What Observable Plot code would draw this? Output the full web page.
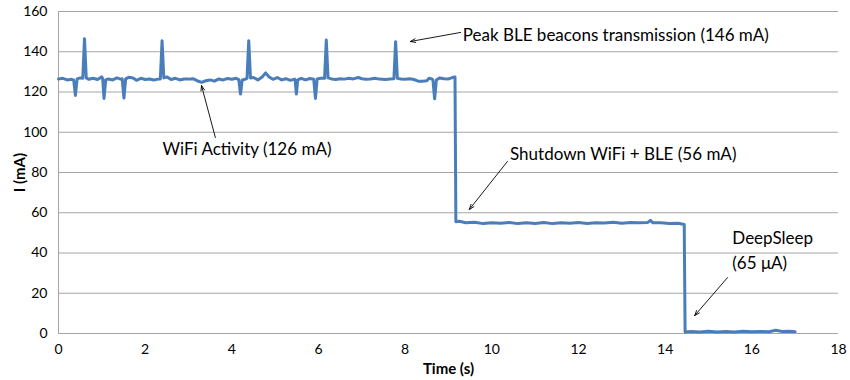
<!DOCTYPE html>
<html><head><meta charset="utf-8">
<script src="https://cdn.jsdelivr.net/npm/d3@7"></script>
<script src="https://cdn.jsdelivr.net/npm/@observablehq/plot@0.6"></script>
<style>
body{margin:0;background:#fff;}
#chart svg{display:block;}
g[aria-label="x-axis label"] text, g[aria-label="y-axis label"] text{font-weight:bold;font-size:15px;}
</style></head><body><div id="chart"></div>
<script>
// Measured current trace (time in s, current in mA)
const timeS = [
  0.00,0.10,0.20,0.30,0.35,0.39,0.43,0.50,0.56,0.60,0.64,0.70,0.80,0.90,1.00,1.02,1.05,1.09,1.15,1.25,
  1.35,1.45,1.47,1.51,1.55,1.62,1.72,1.80,1.90,2.00,2.10,2.20,2.30,2.35,2.39,2.43,2.50,2.60,2.70,2.80,
  2.90,3.00,3.10,3.20,3.30,3.40,3.50,3.60,3.70,3.80,3.90,4.00,4.10,4.16,4.20,4.24,4.30,4.35,4.39,4.43,
  4.50,4.60,4.70,4.78,4.86,4.95,5.05,5.15,5.25,5.35,5.45,5.46,5.49,5.52,5.60,5.70,5.80,5.89,5.93,5.97,
  6.05,6.14,6.18,6.22,6.30,6.40,6.50,6.60,6.70,6.80,6.92,7.00,7.10,7.20,7.30,7.40,7.55,7.65,7.74,7.78,
  7.82,7.90,8.00,8.10,8.20,8.30,8.40,8.50,8.55,8.62,8.64,8.68,8.72,8.76,8.80,8.90,9.00,9.07,9.12,9.15,
  9.17,9.25,9.40,9.60,9.80,10.00,10.20,10.40,10.60,10.80,11.00,11.20,11.40,11.60,11.80,12.00,12.20,12.40,12.60,12.80,
  13.00,13.20,13.40,13.60,13.66,13.72,13.90,14.10,14.30,14.44,14.46,14.60,14.80,15.00,15.20,15.40,15.60,15.80,16.00,16.20,
  16.40,16.55,16.70,16.85,17.00
];
const currentMA = [
  126.5,126.8,126.0,126.3,126.0,118.3,126.5,127.0,126.8,146.5,127.0,126.3,126.8,126.2,127.5,126.5,116.8,126.0,126.5,126.0,
  127.0,126.3,126.5,117.0,126.5,127.3,127.0,125.8,126.8,126.2,126.5,126.0,126.4,126.5,145.5,127.0,127.5,126.2,126.8,126.0,
  126.5,126.4,126.6,125.6,124.8,125.6,126.0,125.4,126.5,126.0,126.7,126.3,126.8,126.2,119.0,126.0,126.3,126.8,145.5,127.0,
  127.2,126.0,127.5,129.5,127.5,126.3,127.2,126.0,126.6,125.8,126.4,126.0,119.0,126.0,126.8,126.0,126.7,126.3,116.8,126.5,
  126.8,126.8,145.8,127.0,126.5,126.2,126.6,126.4,126.8,126.5,127.2,126.6,126.3,126.5,126.8,126.4,126.2,126.5,126.6,145.0,
  126.8,126.5,126.3,126.6,126.2,125.4,125.3,125.6,126.8,126.5,126.0,116.6,126.0,126.5,127.0,126.6,126.5,127.0,127.4,127.4,
  55.5,55.8,55.0,55.3,54.6,55.0,54.8,55.2,54.6,55.0,54.7,55.1,54.6,55.0,54.8,55.2,54.7,55.0,54.9,55.3,
  54.8,55.1,55.0,55.2,56.2,55.0,55.0,54.6,54.8,54.2,0.8,1.0,0.7,1.1,0.8,1.0,0.8,1.1,0.9,1.0,
  0.9,1.6,1.0,1.1,0.9
];
const xTicks = [0, 2, 4, 6, 8, 10, 12, 14, 16, 18];
const yTicks = [0, 20, 40, 60, 80, 100, 120, 140, 160];

// Annotation texts (data coordinates)
const noteText = ["Peak BLE beacons transmission (146 mA)", "WiFi Activity (126 mA)", "Shutdown WiFi + BLE (56 mA)", "DeepSleep", "(65 \u03bcA)"];
const noteX = [9.33, 2.40, 10.42, 15.55, 15.55];
const noteY = [148.0, 91.4, 88.9, 47.2, 34.8];
// Annotation arrows (tail x1,y1 -> head x2,y2)
const arrowX1 = [9.28, 3.62, 10.36, 15.44];
const arrowY1 = [149.6, 97.4, 85.5, 27.8];
const arrowX2 = [8.12, 3.30, 9.48, 14.68];
const arrowY2 = [145.1, 123.2, 61.6, 8.9];

const series = timeS.map((t, i) => ({t, v: currentMA[i]}));
const notes = noteText.map((s, i) => ({s, x: noteX[i], y: noteY[i]}));
const arrows = arrowX1.map((x1, i) => ({x1, y1: arrowY1[i], x2: arrowX2[i], y2: arrowY2[i]}));

const chart = Plot.plot({
  width: 850, height: 380,
  marginLeft: 58, marginRight: 12, marginTop: 11, marginBottom: 47,
  style: {fontFamily: "Lato, 'Open Sans', sans-serif", fontSize: "14px", color: "#000", background: "#fff"},
  x: {domain: [0, 18]},
  y: {domain: [0, 160]},
  marks: [
    Plot.gridY(yTicks, {stroke: "#a6a6a6", strokeOpacity: 1, strokeWidth: 1}),
    Plot.ruleX([0], {stroke: "#a6a6a6", strokeWidth: 1}),
    Plot.axisX(xTicks, {tickSize: 0, tickPadding: 11, label: "Time (s)", labelAnchor: "center", labelOffset: 40, labelArrow: "none", fontSize: 14}),
    Plot.axisY(yTicks, {tickSize: 0, tickPadding: 11, label: "I (mA)", labelAnchor: "center", labelOffset: 44, labelArrow: "none", fontSize: 14}),
    Plot.line(series, {x: "t", y: "v", stroke: "#4a7ebb", strokeWidth: 3, strokeLinejoin: "round"}),
    Plot.arrow(arrows, {x1: "x1", y1: "y1", x2: "x2", y2: "y2", stroke: "#000", strokeWidth: 0.9, headLength: 9, headAngle: 40, bend: 0}),
    Plot.text(notes, {x: "x", y: "y", text: "s", textAnchor: "start", lineAnchor: "middle", fontSize: 17, fill: "#000"})
  ]
});
document.getElementById("chart").append(chart);
</script></body></html>
